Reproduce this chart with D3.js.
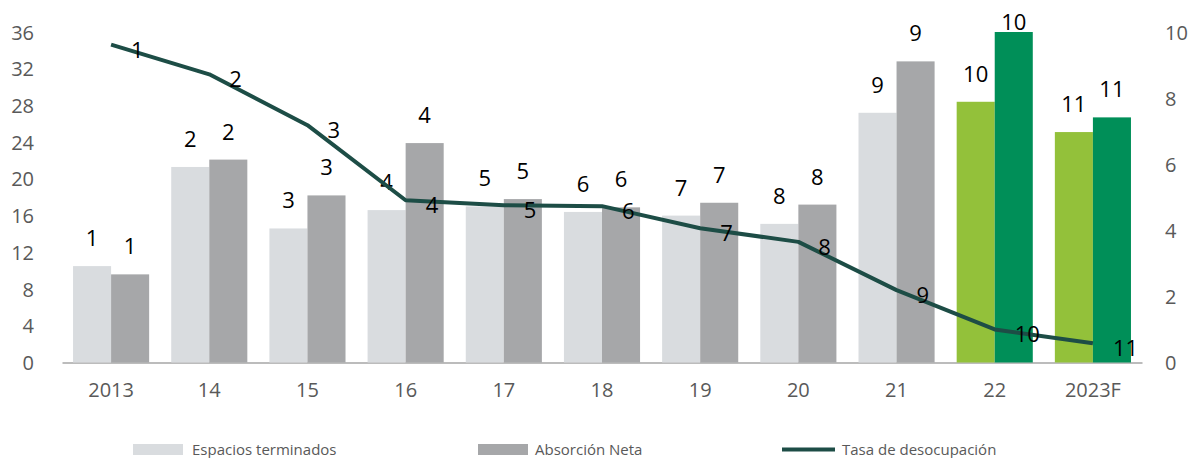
<!DOCTYPE html>
<html>
<head>
<meta charset="utf-8">
<script src="https://cdn.jsdelivr.net/npm/d3@7"></script>
<style>
  body { margin: 0; background: #fff; }
  text { font-family: "Open Sans", sans-serif; }
</style>
</head>
<body>
<div id="grafikon"></div>
<script>
// podaci
const kategorije = ["2013", "14", "15", "16", "17", "18", "19", "20", "21", "22", "2023F"]
const espaciosTerminados = [10.5, 21.3, 14.6, 16.6, 17.0, 16.4, 16.0, 15.1, 27.2, 28.4, 25.1]
const absorcionNeta = [9.6, 22.1, 18.2, 23.9, 17.8, 16.9, 17.4, 17.2, 32.8, 36.0, 26.7]
const tasaDesocupacion = [9.62, 8.72, 7.18, 4.91, 4.76, 4.73, 4.06, 3.65, 2.19, 1.0, 0.58]
const oznake = ["1", "2", "3", "4", "5", "6", "7", "8", "9", "10", "11"]
const destacadas = ["22", "2023F"]
const lijeviTikovi = [0, 4, 8, 12, 16, 20, 24, 28, 32, 36]
const desniTikovi = [0, 2, 4, 6, 8, 10]

const dimenzije = { sirina: 1191, visina: 458 }
const granica = { lijevo: 62, desno: 1142, vrh: 32, dno: 362.5 }

const okvir = d3.select("#grafikon").append("svg")
  .attr("width", dimenzije.sirina)
  .attr("height", dimenzije.visina)

// razmjeri
const x0 = d3.scaleBand().domain(kategorije).range([granica.lijevo, granica.desno]).padding(0)
const x1 = d3.scaleBand().domain(["esp", "abs"]).range([0, x0.bandwidth()]).paddingInner(0).paddingOuter(0.29)
const yL = d3.scaleLinear().domain([0, 36]).range([granica.dno, granica.vrh])
const yR = d3.scaleLinear().domain([0, 10]).range([granica.dno, granica.vrh])

const boje = {
  esp: "#d9dcdf", abs: "#a6a7a9",
  espZel: "#93c13a", absZel: "#008f58",
  linija: "#1d4d46"
}

// osi
const osL = okvir.append("g")
  .attr("transform", `translate(${34},0)`)
  .call(d3.axisLeft(yL).tickValues(lijeviTikovi).tickSize(0).tickPadding(0))
osL.select(".domain").remove()
osL.selectAll("text").attr("font-size", 20).attr("fill", "#595959").attr("dy", "0.35em")

const osR = okvir.append("g")
  .attr("transform", `translate(${1165},0)`)
  .call(d3.axisRight(yR).tickValues(desniTikovi).tickSize(0).tickPadding(0))
osR.select(".domain").remove()
osR.selectAll("text").attr("font-size", 20).attr("fill", "#595959").attr("dy", "0.35em")

const osX = okvir.append("g")
  .attr("transform", `translate(0,${granica.dno})`)
  .call(d3.axisBottom(x0).tickSize(0).tickPadding(20))
osX.select(".domain").attr("stroke", "#a6a6a6").attr("stroke-width", 1.5)
osX.selectAll("text").attr("font-size", 20).attr("fill", "#595959")

// stupci
const podaci = kategorije.map((k, i) => ({
  k, esp: espaciosTerminados[i], abs: absorcionNeta[i], oznaka: oznake[i]
}))

const grupe = okvir.selectAll(".grupa")
  .data(podaci)
  .enter().append("g")
    .attr("class", "grupa")
    .attr("transform", d => `translate(${x0(d.k)},0)`)

;["esp", "abs"].forEach(s => {
  grupe.append("rect")
    .attr("x", x1(s))
    .attr("width", x1.bandwidth())
    .attr("y", d => yL(d[s]))
    .attr("height", d => granica.dno - yL(d[s]))
    .attr("fill", d => destacadas.includes(d.k) ? boje[s + "Zel"] : boje[s])
  grupe.append("text")
    .attr("x", x1(s) + x1.bandwidth() / 2)
    .attr("y", d => Math.max(yL(d[s]) - 20, 30))
    .attr("text-anchor", "middle")
    .attr("font-size", 22)
    .attr("fill", "#000")
    .text(d => d.oznaka)
})

// linija
const tocke = kategorije.map((k, i) => [x0(k) + x0.bandwidth() / 2, yR(tasaDesocupacion[i])])
okvir.append("path")
  .attr("d", d3.line()(tocke))
  .attr("fill", "none")
  .attr("stroke", boje.linija)
  .attr("stroke-width", 4)
  .attr("stroke-linejoin", "round")

okvir.selectAll(".oznakaLinije")
  .data(tocke)
  .enter().append("text")
    .attr("class", "oznakaLinije")
    .attr("x", d => d[0] + 20)
    .attr("y", d => d[1] + 13)
    .attr("font-size", 22)
    .attr("fill", "#000")
    .text((d, i) => oznake[i])

// legenda
const legenda = okvir.append("g")
legenda.append("rect").attr("x", 133).attr("y", 444).attr("width", 50).attr("height", 11).attr("fill", boje.esp)
legenda.append("text").attr("x", 192).attr("y", 455).attr("font-size", 15).attr("fill", "#595959").text("Espacios terminados")
legenda.append("rect").attr("x", 478).attr("y", 444).attr("width", 50).attr("height", 11).attr("fill", boje.abs)
legenda.append("text").attr("x", 535).attr("y", 455).attr("font-size", 15).attr("fill", "#595959").text("Absorción Neta")
legenda.append("line").attr("x1", 782).attr("x2", 835).attr("y1", 449.5).attr("y2", 449.5)
  .attr("stroke", boje.linija).attr("stroke-width", 4)
legenda.append("text").attr("x", 842).attr("y", 455).attr("font-size", 15).attr("fill", "#595959").text("Tasa de desocupación")
</script>
</body>
</html>
